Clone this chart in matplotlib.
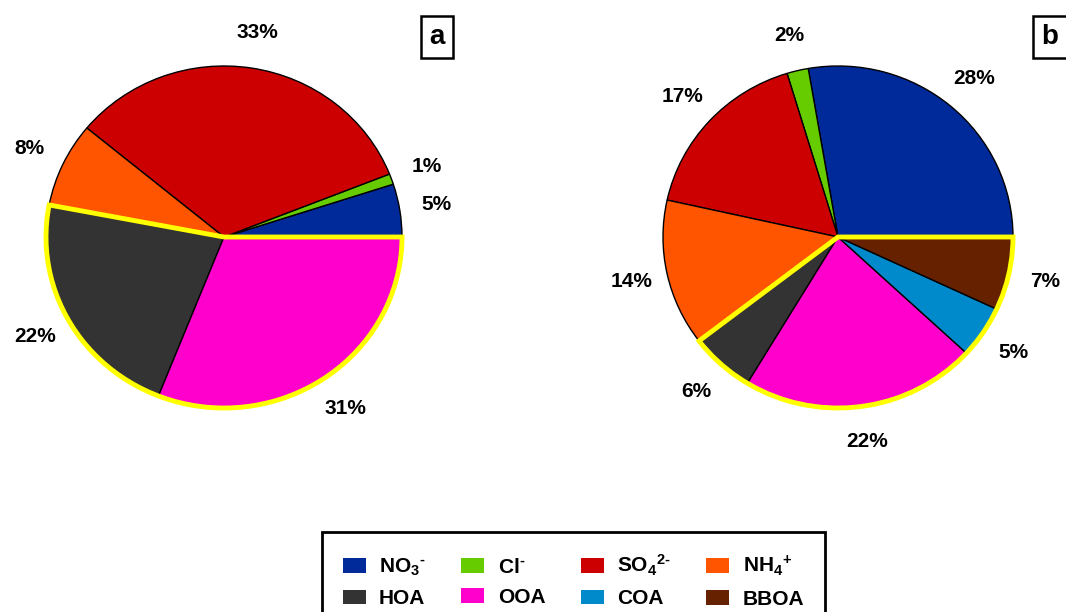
import matplotlib
matplotlib.use('Agg')
import matplotlib.pyplot as plt
from matplotlib.patches import Wedge, Patch
import numpy as np

plt.rcParams['font.family'] = ['Liberation Sans', 'DejaVu Sans']
plt.rcParams['font.weight'] = 'bold'
plt.rcParams['mathtext.fontset'] = 'custom'
plt.rcParams['mathtext.rm'] = 'Liberation Sans:bold'
plt.rcParams['mathtext.bf'] = 'Liberation Sans:bold'
plt.rcParams['mathtext.it'] = 'Liberation Sans:bold'

species = ['NO3', 'Cl', 'SO4', 'NH4', 'HOA', 'OOA', 'COA', 'BBOA']
legend_labels = ['$\\mathrm{NO_3{}^{\u2010}}$', '$\\mathrm{Cl{}^{\u2010}}$',
                 '$\\mathrm{SO_4{}^{2\u2010}}$', '$\\mathrm{NH_4{}^{+}}$',
                 'HOA', 'OOA', 'COA', 'BBOA']
colours = ['#00299A', '#66CC00', '#CC0000', '#FF5500',
           '#333333', '#FF00CC', '#008ACC', '#662200']

# panel a: no COA / BBOA
vals_a = [5, 1, 33, 8, 22, 31]
# panel b
vals_b = [28, 2, 17, 14, 6, 22, 5, 7]
organic_start = 4  # index of HOA

W, H = 1066, 612
fig = plt.figure(figsize=(W / 100, H / 100), dpi=100)
L = 1.3


def draw_pie(cx, cy, rx, ry, vals, tag, tag_xy):
    ax = fig.add_axes([(cx - L * rx) / W, (H - cy - L * ry) / H,
                       2 * L * rx / W, 2 * L * ry / H])
    wedges, _ = ax.pie(vals, colors=colours[:len(vals)], startangle=0,
                       counterclock=True,
                       wedgeprops=dict(edgecolor='black', linewidth=1))
    ax.set_aspect('auto')
    ax.set_xlim(-L, L)
    ax.set_ylim(-L, L)
    ax.axis('off')
    total = sum(vals)
    for w, v in zip(wedges, vals):
        mid = np.deg2rad((w.theta1 + w.theta2) / 2)
        ax.text(1.21 * np.cos(mid), 1.21 * np.sin(mid), '%d%%' % round(100 * v / total),
                ha='center', va='center', fontsize=15, fontweight='bold')
    t1 = wedges[organic_start].theta1
    t2 = wedges[-1].theta2
    ax.add_patch(Wedge((0, 0), 1.0, t1, t2, fill=False, edgecolor='#FFFF00',
                       linewidth=3.5, joinstyle='miter', zorder=5))
    fig.text(tag_xy[0] / W, 1 - tag_xy[1] / H, tag, ha='center', va='center',
             fontsize=20, fontweight='bold',
             bbox=dict(boxstyle='square,pad=0.3', facecolor='white',
                       edgecolor='black', linewidth=1.8))


draw_pie(224, 237, 178, 171, vals_a, 'a', (437, 37))
draw_pie(838, 237, 175, 171, vals_b, 'b', (1050, 37))

handles = [Patch(facecolor=c, edgecolor='none') for c in colours]
order = [0, 4, 1, 5, 2, 6, 3, 7]
leg = fig.legend([handles[i] for i in order], [legend_labels[i] for i in order],
                 ncol=4, loc='upper center', bbox_to_anchor=(573.5 / W, 1 - 532 / H),
                 borderaxespad=0, framealpha=1,
                 fontsize=15, frameon=True, fancybox=False, edgecolor='black',
                 handlelength=1.1, handleheight=0.7, handletextpad=0.65,
                 columnspacing=1.7, labelspacing=0.55, borderpad=1.0)
leg.get_frame().set_linewidth(2)

fig.savefig('out.png', dpi=100)
